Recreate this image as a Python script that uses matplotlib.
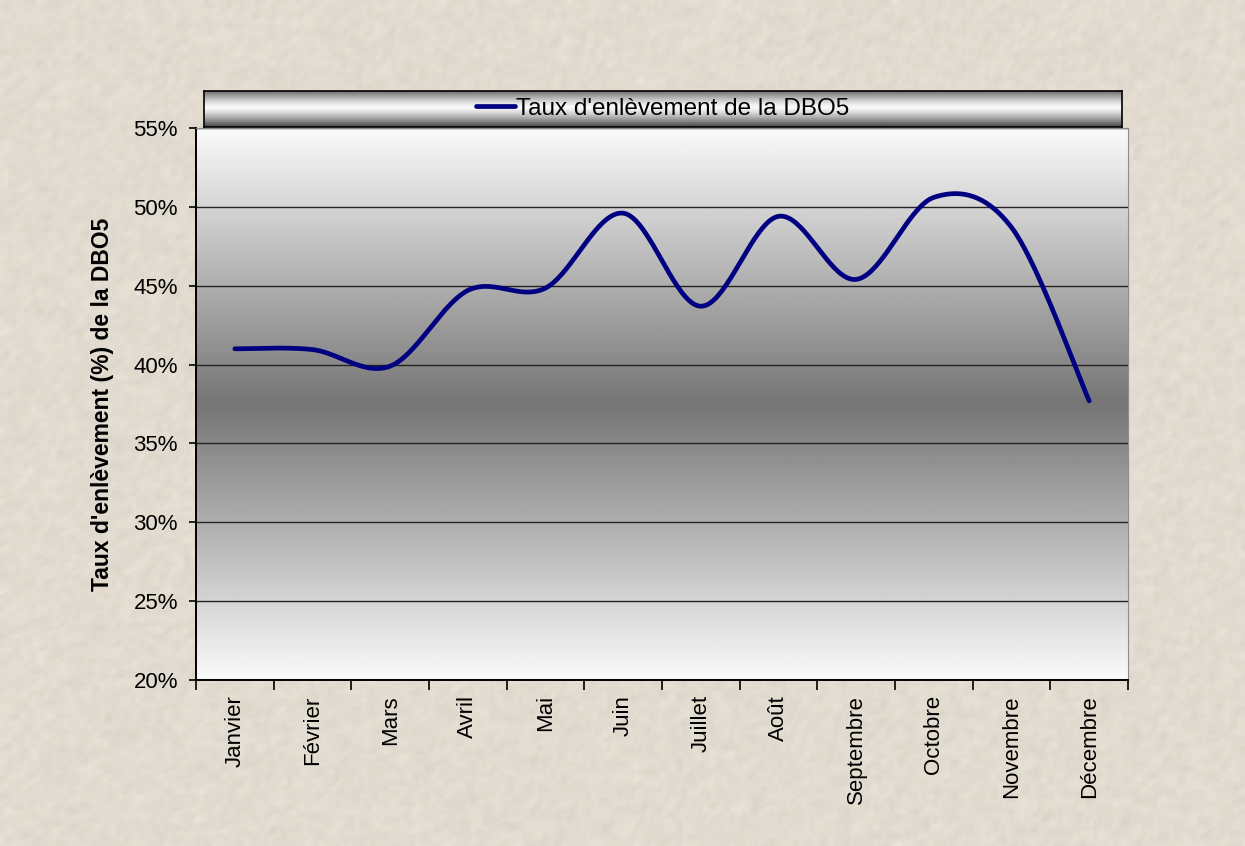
import numpy as np
import matplotlib
matplotlib.use('Agg')
import matplotlib.pyplot as plt
from matplotlib.ticker import PercentFormatter, FixedLocator, NullFormatter, FixedFormatter

plt.rcParams['font.family'] = ['Liberation Sans', 'DejaVu Sans']

mois = ['Janvier', 'Février', 'Mars', 'Avril', 'Mai', 'Juin', 'Juillet',
        'Août', 'Septembre', 'Octobre', 'Novembre', 'Décembre']
taux_dbo5 = [41.0, 40.95, 39.9, 44.7, 44.85, 49.6, 43.7,
             49.4, 45.4, 50.6, 48.7, 37.7]
serie_nom = "Taux d'enlèvement de la DBO5"
y_titre = "Taux d'enlèvement (%) de la DBO5"


def smooth_line(y, n=40):
    # Bezier smoothing between points, same as the spreadsheet "smoothed line"
    y = np.asarray(y, dtype=float)
    x = np.arange(len(y), dtype=float)
    px = np.concatenate(([x[0]], x, [x[-1]]))
    py = np.concatenate(([y[0]], y, [y[-1]]))
    xs, ys = [], []
    t = np.linspace(0, 1, n)
    for i in range(len(y) - 1):
        p0 = np.array([x[i], y[i]])
        p3 = np.array([x[i + 1], y[i + 1]])
        p1 = p0 + (np.array([px[i + 2], py[i + 2]]) - np.array([px[i], py[i]])) / 6
        p2 = p3 - (np.array([px[i + 3], py[i + 3]]) - np.array([px[i + 1], py[i + 1]])) / 6
        b = ((1 - t) ** 3)[:, None] * p0 + (3 * (1 - t) ** 2 * t)[:, None] * p1 \
            + (3 * (1 - t) * t ** 2)[:, None] * p2 + (t ** 3)[:, None] * p3
        xs.append(b[:, 0])
        ys.append(b[:, 1])
    return np.concatenate(xs), np.concatenate(ys)


fig = plt.figure(figsize=(12.45, 8.46), dpi=100)
beige = np.array([0.886, 0.859, 0.816])
fig.patch.set_facecolor(beige)

# paper-like texture behind everything
bg = fig.add_axes([0, 0, 1, 1], zorder=-10)
rng = np.random.default_rng(3)
grain = rng.normal(0, 1, (212, 312))
grain = (grain + np.roll(grain, 1, 0) + np.roll(grain, 1, 1)) / 3
tex = np.clip(beige[None, None, :] + 0.018 * grain[:, :, None], 0, 1)
bg.imshow(tex, aspect='auto', interpolation='bilinear')
bg.axis('off')

ax = fig.add_axes([196 / 1245, 1 - 680 / 846, 932 / 1245, 552 / 846])

# grey gradient fill of the plot area, darkest in the middle
g = np.linspace(0, 1, 300)
shade = 0.98 - (0.98 - 0.46) * (1 - np.abs(g - 0.5) / 0.5)
ax.imshow(shade[:, None], extent=[-0.5, 11.5, 0.20, 0.55], aspect='auto',
          cmap='gray', vmin=0, vmax=1, origin='lower', zorder=0)

xs, ys = smooth_line(taux_dbo5)
line, = ax.plot(xs, ys / 100, color='#000080', lw=3.4, solid_capstyle='round',
                label=serie_nom, zorder=3)

ax.set_xlim(-0.5, 11.5)
ax.set_ylim(0.20, 0.55)
ax.set_yticks(np.arange(0.20, 0.551, 0.05))
ax.yaxis.set_major_formatter(PercentFormatter(1.0, decimals=0))
ax.grid(axis='y', color='#222222', lw=1)
ax.set_axisbelow(True)
for gl in ax.get_ygridlines():
    gl.set_zorder(1)

# category ticks at the boundaries, labels in the middle
ax.xaxis.set_major_locator(FixedLocator(np.arange(-0.5, 12, 1)))
ax.xaxis.set_major_formatter(NullFormatter())
ax.xaxis.set_minor_locator(FixedLocator(np.arange(12)))
ax.xaxis.set_minor_formatter(FixedFormatter(mois))
ax.tick_params(axis='x', which='major', length=7, width=1.2, direction='out')
ax.tick_params(axis='x', which='minor', length=0, pad=11, labelsize=16,
               labelrotation=90)
ax.tick_params(axis='y', length=5, width=1.2, pad=8, labelsize=16)
for lab in ax.xaxis.get_minorticklabels():
    lab.set_verticalalignment('top')

ax.set_ylabel(y_titre, fontsize=16.5, fontweight='bold', labelpad=14)

ax.spines['left'].set_color('black')
ax.spines['bottom'].set_color('black')
ax.spines['left'].set_linewidth(1.4)
ax.spines['bottom'].set_linewidth(1.4)
ax.spines['top'].set_color('#8c8c8c')
ax.spines['right'].set_color('#8c8c8c')

# legend sits in its own box with a metallic gradient
lax = fig.add_axes([204 / 1245, 1 - 127 / 846, 918 / 1245, 36 / 846])
h = np.linspace(0, 1, 100)
metal = 0.98 - 0.55 * np.abs(h - 0.55) ** 1.3 / 0.45 ** 1.3
lax.imshow(metal[:, None], extent=[0, 1, 0, 1], aspect='auto', cmap='gray',
           vmin=0, vmax=1, origin='lower')
lax.set_xticks([])
lax.set_yticks([])
for s in lax.spines.values():
    s.set_color('black')
    s.set_linewidth(1.2)
lax.legend(handles=[line], loc='center', frameon=False, fontsize=17.5,
           handlelength=1.6, handletextpad=0.05, borderpad=0)

fig.savefig('out.png', dpi=100, facecolor=fig.get_facecolor())
